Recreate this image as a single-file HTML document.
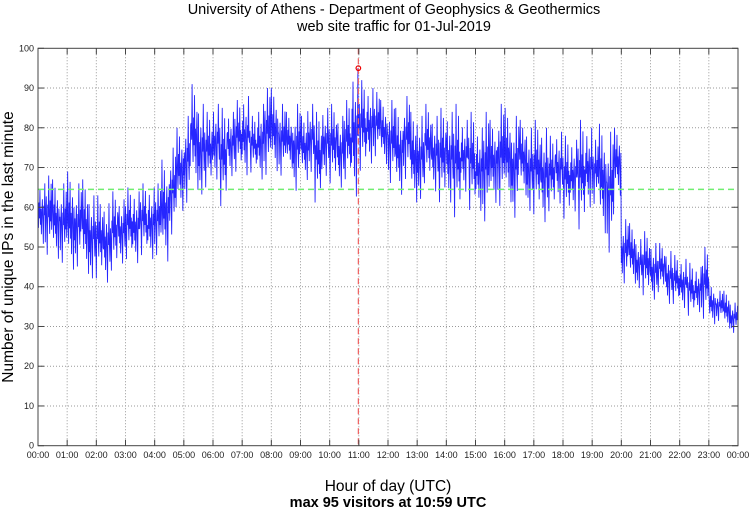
<!DOCTYPE html>
<html><head><meta charset="utf-8"><style>
body{margin:0;background:#fff;}
svg text{font-family:"Liberation Sans",sans-serif;}
</style></head><body>
<svg id="c" width="750" height="511" viewBox="0 0 750 511">
<text x="394" y="14" font-size="14.5" text-anchor="middle">University of Athens - Department of Geophysics &amp; Geothermics</text>
<text x="394" y="31" font-size="14.5" text-anchor="middle">web site traffic for 01-Jul-2019</text>
<text transform="translate(13,247) rotate(-90)" font-size="15.5" text-anchor="middle">Number of unique IPs in the last minute</text>
<text x="388" y="491" font-size="15.5" text-anchor="middle">Hour of day (UTC)</text>
<text x="388" y="507" font-size="14.5" font-weight="bold" text-anchor="middle">max 95 visitors at 10:59 UTC</text>
<g id="grid"></g><g id="series"></g><g id="marks"></g><g id="axes"></g>
</svg>
<script>
const hourLabels=["00:00","01:00","02:00","03:00","04:00","05:00","06:00","07:00","08:00","09:00","10:00","11:00","12:00","13:00","14:00","15:00","16:00","17:00","18:00","19:00","20:00","21:00","22:00","23:00","00:00"];
const yTicks=[0,10,20,30,40,50,60,70,80,90,100];
// 15-minute bins: min and max of unique IPs per minute
const binLow=[50,47,46,45, 43,44,42,41, 41,40,43,45, 46,45,47,46, 47,45,52,58, 60,63,62,64, 66,59,67,68, 67,68,66,67, 68,67,69,63, 66,68,60,67, 65,64,66,61, 68,70,72,70, 65,62,66,60, 61,65,63,60, 60,56,63,58, 58,55,60,59, 60,56,62,58, 57,55,58,60, 56,58,53,59, 60,52,47,62, 40,40,39,37, 36,38,35,35, 34,32,33,31, 30,31,29,28];
const binHigh=[66,68,67,66, 69,66,67,63, 63,61,64,62, 65,64,66,65, 66,72,75,80, 83,91,86,84, 86,85,84,87, 88,83,86,90, 90,86,84,86, 83,86,84,85, 86,83,87,95, 92,90,89,87, 87,85,88,84, 83,86,83,85, 84,86,82,84, 80,84,82,86, 85,83,82,80, 82,80,78,79, 78,77,82,80, 77,81,79,80, 57,56,52,54, 51,51,49,48, 47,46,45,50, 41,39,39,36];
const wiggle=[0.5,0.3,0.7,0.45,0.9,0.35,0.6,0.2,0.55,0.75,0.4,0.05,0.65,0.5,1.0];
const meanLevel=[64.5];
const peak={minute:659,value:95};
const X0=38,X1=738,Y0=445.7,Y1=48.3;
const xS=m=>X0+(X1-X0)*m/1440;
const yS=v=>Y0-(Y0-Y1)*v/100;
const NS="http://www.w3.org/2000/svg";
function mk(t,a,p){const e=document.createElementNS(NS,t);for(const k in a)e.setAttribute(k,a[k]);p.appendChild(e);return e;}
const grid=document.getElementById('grid'),axes=document.getElementById('axes'),ser=document.getElementById('series'),marks=document.getElementById('marks');
hourLabels.forEach((l,i)=>{const x=xS(i*60);
 if(i>0&&i<24){const g=mk('line',{x1:x,x2:x,y1:Y1,y2:Y0,stroke:'#999','stroke-dasharray':'1,2','stroke-width':1},grid);
 
 }
 const t1=mk('line',{x1:x,x2:x,y1:Y0,y2:Y0-6,stroke:'#444'},axes);
 
 
 const t2=mk('line',{x1:x,x2:x,y1:Y1,y2:Y1+6,stroke:'#444'},axes);
 
 
 const tx=mk('text',{x:x,y:458,'font-size':9,'text-anchor':'middle',fill:'#222'},axes);tx.textContent=l;
 
 });
yTicks.forEach(v=>{const y=yS(v);
 if(v>0&&v<100){const g=mk('line',{x1:X0,x2:X1,y1:y,y2:y,stroke:'#999','stroke-dasharray':'1,2','stroke-width':1},grid);
 
 }
 const t1=mk('line',{x1:X0,x2:X0+6,y1:y,y2:y,stroke:'#444'},axes);
 
 
 const t2=mk('line',{x1:X1,x2:X1-6,y1:y,y2:y,stroke:'#444'},axes);
 
 
 const tx=mk('text',{x:34,y:y+3,'font-size':9,'text-anchor':'end',fill:'#222'},axes);tx.textContent=v;
 
 });
const frame=mk('rect',{x:X0,y:Y1,width:X1-X0,height:Y0-Y1,fill:'none',stroke:'#444','stroke-width':1},axes);


let pts=[];
binLow.forEach((lo,b)=>{const hi=binHigh[b];
 for(let k=0;k<15;k++){const m=b*15+k;const w=wiggle[(k+b*7)%15];pts.push(xS(m).toFixed(2)+','+yS(lo+(hi-lo)*w).toFixed(2));}});
const line=mk('polyline',{points:pts.join(' '),fill:'none',stroke:'#0000ff','stroke-width':0.9,'stroke-opacity':0.85},ser);


const ml=mk('line',{x1:X0,x2:X1,y1:yS(meanLevel[0]),y2:yS(meanLevel[0]),stroke:'#70ee70','stroke-width':1.4,'stroke-dasharray':'6,4'},marks);


const px=xS(peak.minute);
const pl=mk('line',{x1:px,x2:px,y1:Y1,y2:Y0,stroke:'#f06060','stroke-width':1.2,'stroke-dasharray':'6,4'},marks);


const pc=mk('circle',{cx:px,cy:yS(peak.value),r:2.3,fill:'none',stroke:'#e00','stroke-width':1.2},marks);


</script>
</body></html>
